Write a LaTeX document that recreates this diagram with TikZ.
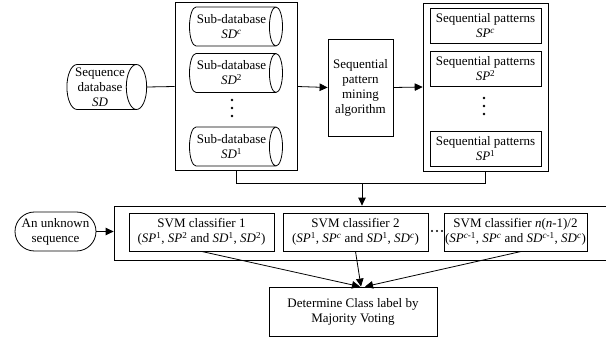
\documentclass[tikz,border=0pt]{standalone}
\usepackage{fontspec}
\setmainfont{Liberation Serif}
\usetikzlibrary{shapes.geometric, shapes.misc, arrows.meta, positioning, fit, calc}

\newcommand{\SD}[1]{\textit{SD}\textsuperscript{#1}}
\newcommand{\SP}[1]{\textit{SP}\textsuperscript{#1}}

\begin{document}
\begin{tikzpicture}[x=1pt, y=1pt,
  font=\fontsize{13}{15}\selectfont,
  db/.style={cylinder, draw, aspect=0.5, align=center, inner sep=1pt,
    minimum width=39pt, minimum height=93pt},
  box/.style={rectangle, draw, align=center, inner sep=1pt},
  frame/.style={rectangle, draw, inner sep=0pt},
  term/.style={rounded rectangle, draw, align=center, inner sep=1pt,
    minimum width=83pt, minimum height=39pt},
  arr/.style={-{Triangle[length=8pt, width=7.5pt]}},
  line width=0.8pt
]
\useasboundingbox (0,0) rectangle (606,-337);
\clip (0,0) rectangle (606,-337);

% Databases
\node[db, minimum width=45pt, minimum height=75pt] (sd) at (100,-87) {Sequence\\database\\\textit{SD}};
\node[db] (subc) at (231.5,-26.5) {Sub-database\\\SD{\textit{c}}};
\node[db] (subb) at (231.5,-73) {Sub-database\\\SD{2}};
\node[db] (suba) at (231.5,-146.5) {Sub-database\\\SD{1}};
\node[frame, fit=(subc)(suba), inner xsep=14pt, inner ysep=4pt] (subframe) {};
\foreach \y in {100,108,116} \fill (232,-\y) circle (1.3pt);

% Mining
\node[box, minimum width=65pt, minimum height=97pt] (mine) at (360.5,-87.5) {Sequential\\pattern\\mining\\algorithm};

% Patterns
\node[box, minimum width=111pt, minimum height=35pt] (patc) at (485.5,-25.5) {Sequential patterns\\\SP{\textit{c}}};
\node[box, minimum width=111pt, minimum height=35pt] (patb) at (485.5,-69) {Sequential patterns\\\SP{2}};
\node[box, minimum width=111pt, minimum height=35pt] (pata) at (485.5,-148.5) {Sequential patterns\\\SP{1}};
\node[frame, fit=(patc)(pata), inner xsep=6.5pt, inner ysep=4.5pt] (patframe) {};
\foreach \y in {98,106,114} \fill (484,-\y) circle (1.3pt);

% Classifiers
\node[frame, minimum width=526pt, minimum height=54pt] (svmframe) at (377,-233) {};
\node[term] (unknown) at (55.5,-231.5) {An unknown\\sequence};
\node[box, minimum width=145pt, minimum height=38pt] (svma) at (201.5,-232) {SVM classifier 1\\(\SP{1}, \SP{2} and \SD{1}, \SD{2})};
\node[box, minimum width=145pt, minimum height=38pt] (svmb) at (355.5,-232) {SVM classifier 2\\(\SP{1}, \SP{\textit{c}} and \SD{1}, \SD{\textit{c}})};
\node[box, minimum width=143pt, minimum height=38pt] (svmc) at (515.5,-232) {SVM classifier \textit{n}(\textit{n}-1)/2\\(\SP{\textit{c}-1}, \SP{\textit{c}} and \SD{\textit{c}-1}, \SD{\textit{c}})};
\foreach \x in {432,437,442} \fill (\x,-231) circle (1.1pt);
\node[box, minimum width=168pt, minimum height=49pt] (vote) at (353,-311.5) {Determine Class label by\\Majority Voting};

% Arrows
\draw (sd.east) -- (subframe.west);
\draw[arr] (subframe.east) -- (mine.west);
\draw[arr] (mine.east) -- (patframe.west);
\draw (subframe.south) -- ++(0,-13) coordinate (join) -| (patframe.south);
\draw[arr] (join -| vote.north) ++(9,0) coordinate (drop) -- (drop |- svmframe.north);
\draw[arr] (unknown.east) -- (unknown.east -| svmframe.west);
\draw[arr] (svma.south) -- ([xshift=7pt]vote.north);
\draw[arr] (svmb.south) -- ([xshift=8pt]vote.north);
\draw[arr] ([xshift=6pt]svmc.south) -- ([xshift=12pt]vote.north);

\end{tikzpicture}
\end{document}
